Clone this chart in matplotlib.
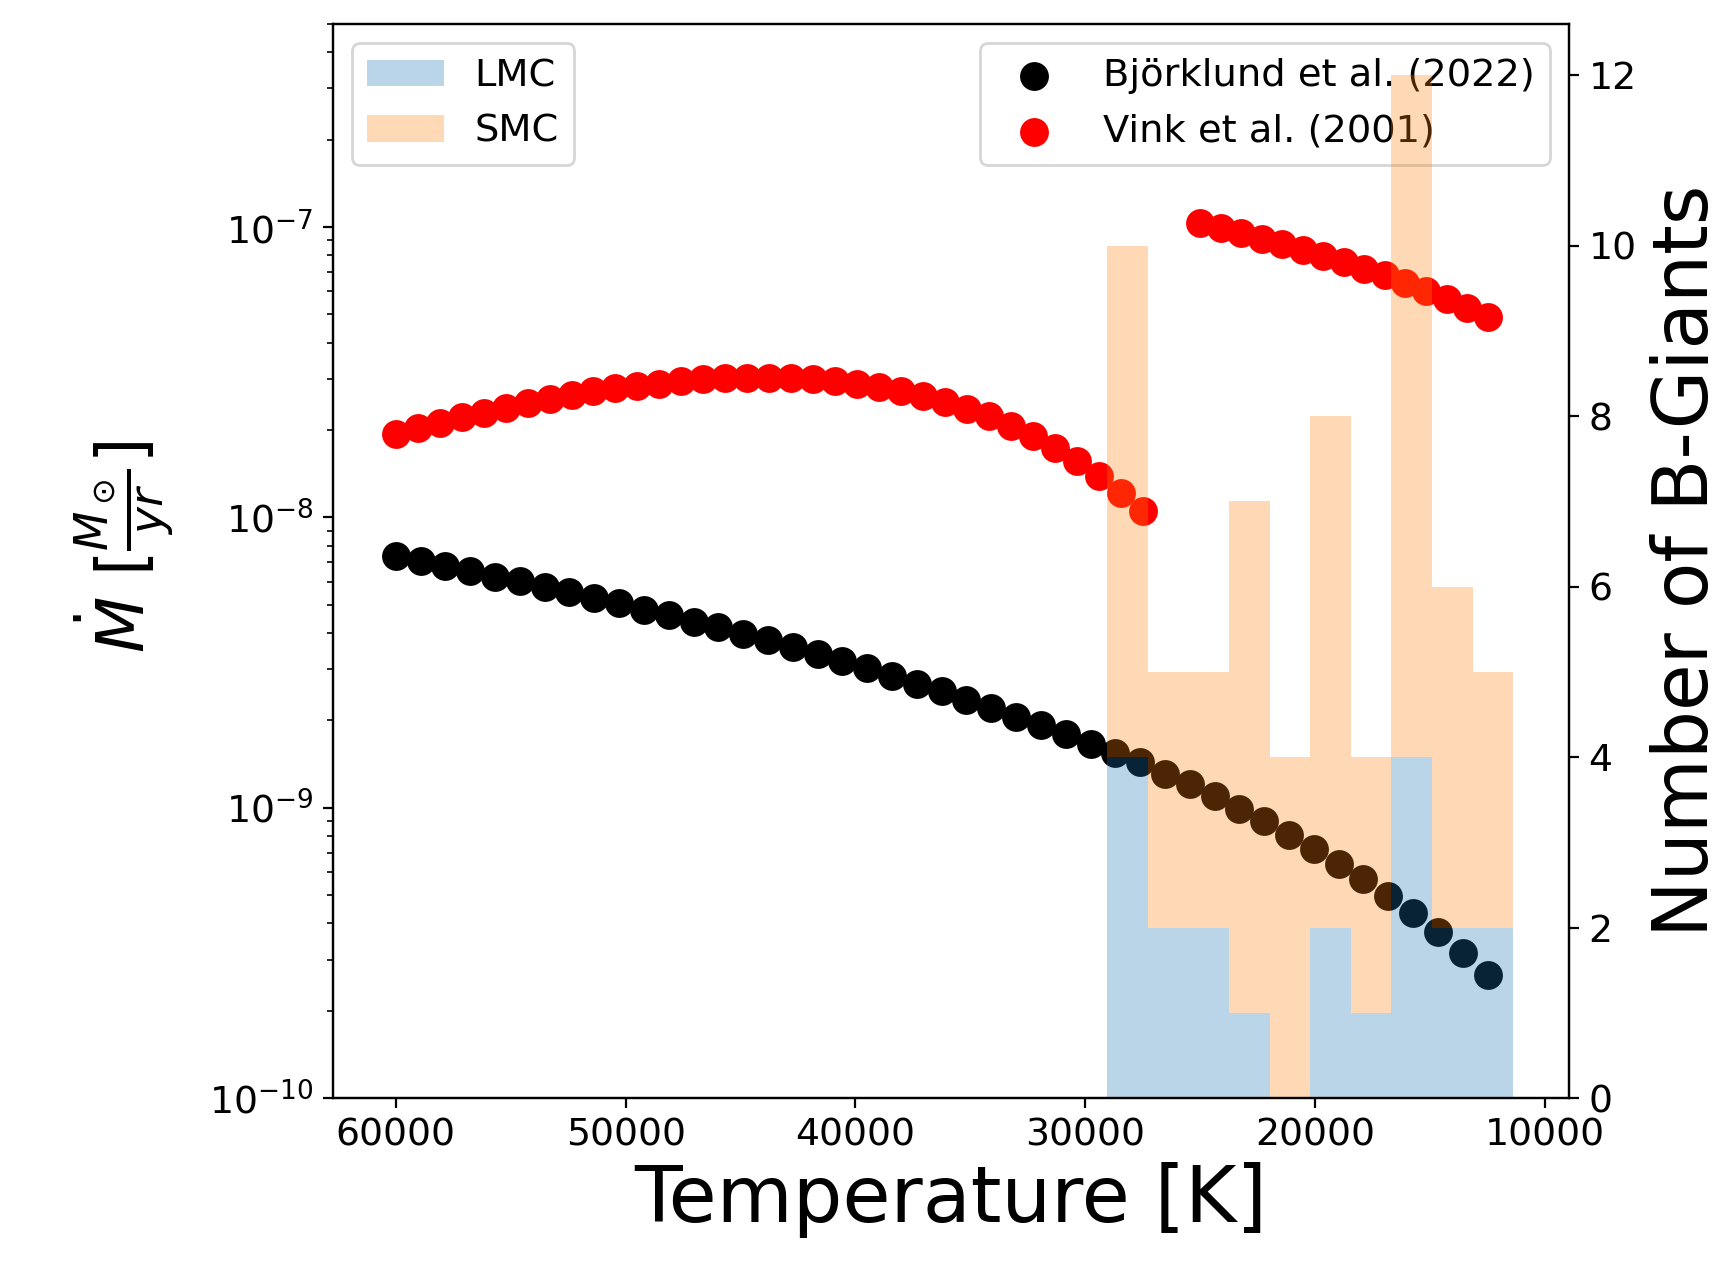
import numpy as np
import matplotlib
matplotlib.use("Agg")
import matplotlib.pyplot as plt

# ---------------- data ----------------
# Björklund et al. (2022) mass-loss rates
T_bjorklund = [60000, 58920, 57841, 56761, 55682, 54602, 53523, 52443, 51364, 50284,
               49205, 48125, 47045, 45966, 44886, 43807, 42727, 41648, 40568, 39489,
               38409, 37330, 36250, 35170, 34091, 33011, 31932, 30852, 29773, 28693,
               27614, 26534, 25455, 24375, 23295, 22216, 21136, 20057, 18977, 17898,
               16818, 15739, 14659, 13580, 12500]
Mdot_bjorklund = [7.34e-9, 7.06e-9, 6.78e-9, 6.54e-9, 6.26e-9, 6.02e-9, 5.76e-9, 5.52e-9,
                  5.28e-9, 5.06e-9, 4.81e-9, 4.60e-9, 4.38e-9, 4.18e-9, 3.97e-9, 3.77e-9,
                  3.58e-9, 3.39e-9, 3.20e-9, 3.02e-9, 2.85e-9, 2.68e-9, 2.52e-9, 2.36e-9,
                  2.21e-9, 2.06e-9, 1.93e-9, 1.79e-9, 1.66e-9, 1.55e-9, 1.44e-9, 1.31e-9,
                  1.21e-9, 1.10e-9, 9.9e-10, 9.03e-10, 8.08e-10, 7.23e-10, 6.41e-10,
                  5.68e-10, 4.98e-10, 4.34e-10, 3.73e-10, 3.16e-10, 2.65e-10]

# Vink et al. (2001), hot side of the bi-stability jump
T_vink_hot = [60000, 59044, 58088, 57132, 56176, 55221, 54265, 53309, 52353, 51397,
              50441, 49485, 48529, 47574, 46618, 45662, 44706, 43750, 42794, 41838,
              40882, 39926, 38971, 38015, 37059, 36103, 35147, 34191, 33235, 32279,
              31324, 30368, 29412, 28456, 27500]
Mdot_vink_hot = [1.94e-8, 2.03e-8, 2.12e-8, 2.21e-8, 2.29e-8, 2.39e-8, 2.48e-8, 2.56e-8,
                 2.65e-8, 2.72e-8, 2.79e-8, 2.84e-8, 2.89e-8, 2.95e-8, 2.99e-8, 3.02e-8,
                 3.03e-8, 3.03e-8, 3.01e-8, 2.99e-8, 2.96e-8, 2.88e-8, 2.81e-8, 2.72e-8,
                 2.62e-8, 2.50e-8, 2.37e-8, 2.23e-8, 2.07e-8, 1.91e-8, 1.74e-8, 1.56e-8,
                 1.39e-8, 1.21e-8, 1.05e-8]

# Vink et al. (2001), cool side of the bi-stability jump
T_vink_cool = [25000, 24107, 23214, 22321, 21429, 20536, 19643, 18750, 17857, 16964,
               16071, 15179, 14286, 13393, 12500]
Mdot_vink_cool = [1.032e-7, 9.92e-8, 9.54e-8, 9.11e-8, 8.74e-8, 8.35e-8, 7.96e-8, 7.58e-8,
                  7.18e-8, 6.81e-8, 6.43e-8, 6.03e-8, 5.66e-8, 5.28e-8, 4.91e-8]

# B-giant counts per temperature bin (bins ordered by increasing temperature)
bin_lo, bin_hi, n_bins = 11380, 29050, 10
counts_lmc = [2, 2, 4, 1, 2, 0, 1, 2, 2, 4]
counts_smc = [3, 4, 8, 3, 6, 4, 6, 3, 3, 6]

xticks = [60000, 50000, 40000, 30000, 20000, 10000]

# ---------------- figure ----------------
DPI = 200
fig = plt.figure(figsize=(1726 / DPI, 1263 / DPI), dpi=DPI)
ax = fig.add_axes([0.1928, 0.1304, 0.9090 - 0.1928, 0.981 - 0.1304])

S = 88
ax.scatter(T_bjorklund, Mdot_bjorklund, s=S, color="black", label="Björklund et al. (2022)")
ax.scatter(T_vink_hot, Mdot_vink_hot, s=S, color="red", label="Vink et al. (2001)")
ax.scatter(T_vink_cool, Mdot_vink_cool, s=S, color="red")

ax.set_yscale("log")
ax.set_ylim(1e-10, 5e-7)
ax.set_xlim(62740, 8960)
ax.set_xticks(xticks)
ax.set_xlabel("Temperature [K]", fontsize=28.2, labelpad=3)
ax.set_ylabel(r"$\dot{M}$ [$\frac{M_\odot}{yr}$]", fontsize=23.5, labelpad=12)
ax.yaxis.label.set_y(0.513)
ax.tick_params(labelsize=13.6)
ax.legend(loc="upper right", fontsize=13.8)

ax2 = ax.twinx()
edges = np.linspace(bin_lo, bin_hi, n_bins + 1)
centers = 0.5 * (edges[:-1] + edges[1:])
ax2.hist([centers, centers], bins=edges, weights=[counts_lmc, counts_smc],
         stacked=True, alpha=0.3, color=["C0", "C1"], label=["LMC", "SMC"])
ax2.set_ylabel("Number of B-Giants", fontsize=27.3, labelpad=5)
ax2.tick_params(labelsize=13.6)
ax2.set_xlim(62740, 8960)
ax2.legend(loc="upper left", fontsize=13.8)

fig.savefig("out.png", dpi=DPI)
